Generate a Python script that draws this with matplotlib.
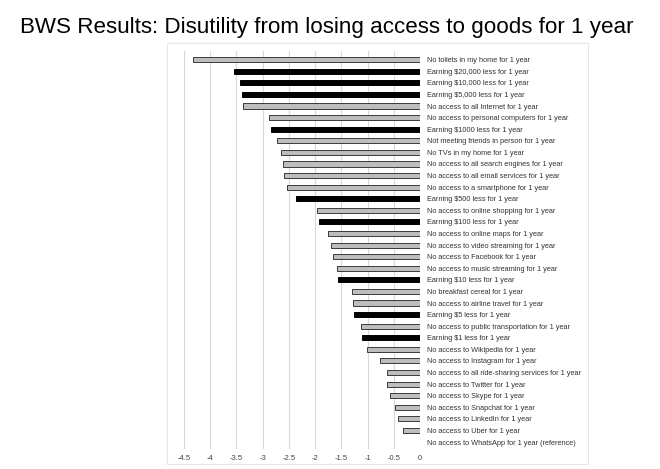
import matplotlib.pyplot as plt
from matplotlib.patches import Rectangle

labels = [
    "No toilets in my home for 1 year",
    "Earning $20,000 less for 1 year",
    "Earning $10,000 less for 1 year",
    "Earning $5,000 less for 1 year",
    "No access to all Internet for 1 year",
    "No access to personal computers for 1 year",
    "Earning $1000 less for 1 year",
    "Not meeting friends in person for 1 year",
    "No TVs in my home for 1 year",
    "No access to all search engines for 1 year",
    "No access to all email services for 1 year",
    "No access to a smartphone for 1 year",
    "Earning $500 less for 1 year",
    "No access to online shopping for 1 year",
    "Earning $100 less for 1 year",
    "No access to online maps for 1 year",
    "No access to video streaming for 1 year",
    "No access to Facebook for 1 year",
    "No access to music streaming for 1 year",
    "Earning $10 less for 1 year",
    "No breakfast cereal for 1 year",
    "No access to airline travel for 1 year",
    "Earning $5 less for 1 year",
    "No access to public transportation for 1 year",
    "Earning $1 less for 1 year",
    "No access to Wikipedia for 1 year",
    "No access to Instagram for 1 year",
    "No access to all ride-sharing services for 1 year",
    "No access to Twitter for 1 year",
    "No access to Skype for 1 year",
    "No access to Snapchat for 1 year",
    "No access to LinkedIn for 1 year",
    "No access to Uber for 1 year",
    "No access to WhatsApp for 1 year (reference)",
]
values = [-4.33, -3.55, -3.43, -3.39, -3.38, -2.87, -2.85, -2.73, -2.65, -2.62,
          -2.59, -2.54, -2.37, -1.97, -1.93, -1.75, -1.70, -1.65, -1.59, -1.56,
          -1.30, -1.28, -1.26, -1.12, -1.10, -1.01, -0.76, -0.62, -0.62, -0.58,
          -0.47, -0.42, -0.32, 0.0]
xticks = [-4.5, -4, -3.5, -3, -2.5, -2, -1.5, -1, -0.5, 0]
xtick_labels = ["-4.5", "-4", "-3.5", "-3", "-2.5", "-2", "-1.5", "-1", "-0.5", "0"]

plt.rcParams['font.family'] = ['Liberation Sans', 'DejaVu Sans']

fig = plt.figure(figsize=(6.6, 4.69), dpi=100)

# light frame around the chart
fig.patches.append(Rectangle((167 / 660, 1 - 464 / 469), 421 / 660, 421 / 469,
                             transform=fig.transFigure, fill=False,
                             edgecolor='#e6e6e6', linewidth=0.8))

fig.text(20 / 660, 1 - 27 / 469,
         "BWS Results: Disutility from losing access to goods for 1 year",
         fontsize=16.1, va='center', ha='left', color='black')

ax = fig.add_axes([181.4 / 660, 20 / 469, 238.6 / 660, 398 / 469])

pos = list(range(len(labels)))
colors = ['black' if l.startswith('Earning') else '#bdbdbd' for l in labels]
edges = ['black' if l.startswith('Earning') else '#3a3a3a' for l in labels]
ax.barh(pos, values, height=0.44, color=colors, edgecolor=edges, linewidth=0.7, zorder=3)

ax.set_xlim(-4.55, 0)
ax.set_ylim(33.6, -0.75)
ax.set_xticks(xticks)
ax.set_xticklabels(xtick_labels)
ax.grid(axis='x', color='#d9d9d9', linewidth=0.8, zorder=0)

ax.yaxis.tick_right()
ax.set_yticks(pos)
ax.set_yticklabels(labels)
ax.tick_params(axis='y', length=0, pad=5, labelsize=5.3, labelcolor='#333333')
ax.tick_params(axis='x', length=0, pad=4, labelsize=5.5, labelcolor='#444444')

for s in ax.spines.values():
    s.set_visible(False)

plt.savefig('out.png', dpi=100)
plt.close('all')
